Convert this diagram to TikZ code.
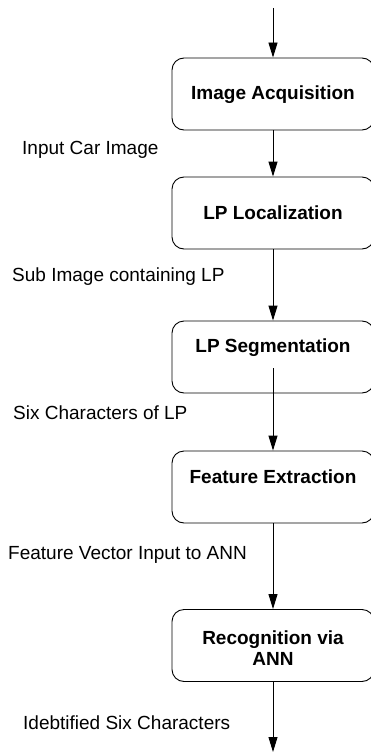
\documentclass[tikz,border=0pt]{standalone}
\usepackage{fontspec}
\setmainfont{Liberation Sans}
\usetikzlibrary{arrows.meta}
\begin{document}
\begin{tikzpicture}[x=1pt,y=-1pt,
  stage/.style={draw=black, line width=0.9pt, rounded corners=12pt, minimum width=202pt, minimum height=72pt, inner sep=0pt},
  stagetext/.style={font=\fontsize{19}{21}\selectfont\bfseries, align=center, inner sep=0pt},
  flowlabel/.style={font=\fontsize{19}{21}\selectfont, anchor=west, inner sep=0pt},
  flow/.style={draw=black, line width=0.9pt, -{Triangle[length=15pt,width=9pt]}}]
\useasboundingbox (0,0) rectangle (371,752);
\begin{scope}
\clip (0,0) rectangle (371,752);
\node[stage] (b1) at (273,94) {};
\node[stage] (b2) at (273,213) {};
\node[stage] (b3) at (273,357) {};
\node[stage] (b4) at (273,487) {};
\node[stage] (b5) at (273,645.5) {};
\end{scope}
\node[stagetext] (t1) at (273,95) {Image Acquisition};
\node[stagetext] (t2) at (273,213) {LP Localization};
\node[stagetext] (t3) at (273,348) {LP Segmentation};
\node[stagetext] (t4) at (273,477) {Feature Extraction};
\node[stagetext] (t5) at (273,648) {Recognition via\\ANN};
\coordinate (top) at (273,8);
\coordinate (c3) at (273,368);
\coordinate (bottom) at (273,752);
\draw[flow] (top) -- (b1.north);
\draw[flow] (b1.south) -- (b2.north);
\draw[flow] (b2.south) -- (b3.north);
\draw[flow] (c3) -- (b4.north);
\draw[flow] (b4.south) -- (b5.north);
\draw[flow] (b5.south) -- (bottom);
\node[flowlabel] (l1) at (22,150) {Input Car Image};
\node[flowlabel] (l2) at (12,277) {Sub Image containing LP};
\node[flowlabel] (l3) at (13,413) {Six Characters of LP};
\node[flowlabel] (l4) at (8,555) {Feature Vector Input to ANN};
\node[flowlabel] (l5) at (23,723) {Idebtified Six Characters};
\end{tikzpicture}
\end{document}
